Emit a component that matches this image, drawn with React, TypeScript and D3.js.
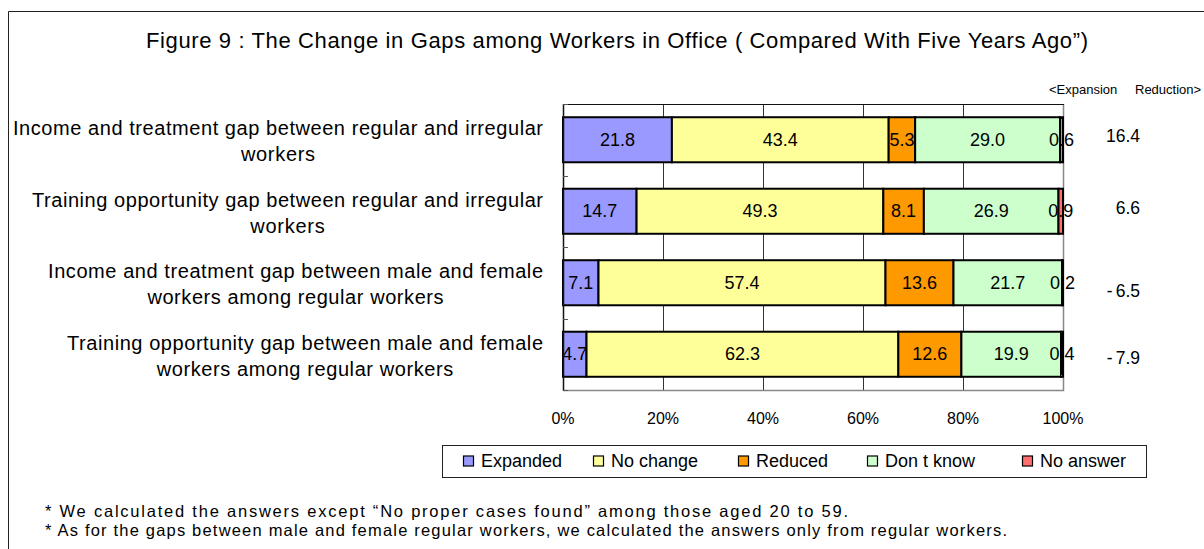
import React, { useEffect, useRef } from "react";
import * as d3 from "d3";

// ---------- data ----------
const CATEGORY_LINE1 = [
  "Income and treatment gap between regular and irregular",
  "Training opportunity gap between regular and irregular",
  "Income and treatment gap between male and female",
  "Training opportunity gap between male and female",
];
const CATEGORY_LINE2 = [
  "workers",
  "workers",
  "workers among regular workers",
  "workers among regular workers",
];
const SERIES = ["Expanded", "No change", "Reduced", "Don t know", "No answer"];
const EXPANDED = [21.8, 14.7, 7.1, 4.7];
const NO_CHANGE = [43.4, 49.3, 57.4, 62.3];
const REDUCED = [5.3, 8.1, 13.6, 12.6];
const DONT_KNOW = [29.0, 26.9, 21.7, 19.9];
const NO_ANSWER = [0.6, 0.9, 0.2, 0.4];
const DIFF_LABELS = ["16.4", "6.6", "-6.5", "-7.9"];
const X_TICKS = [0, 20, 40, 60, 80, 100];

const TITLE =
  "Figure 9 : The Change in Gaps among Workers in Office ( Compared With Five Years Ago\u201d)";
const NOTE1 =
  "* We calculated the answers except \u201cNo proper cases found\u201d among those aged 20 to 59.";
const NOTE2 =
  "* As for the gaps between male and female regular workers, we calculated the answers only from regular workers.";

// ---------- styles / layout ----------
const COLORS = ["#9999FF", "#FFFF99", "#FF9900", "#CCFFCC", "#FF6F6F"];
const FONT = "'Liberation Sans', Arial, sans-serif";
const W = 1204;
const H = 549;
const PLOT = { left: 563, right: 1063, top: 104, bottom: 390 };
const LEGEND_BOX = { x: 442, y: 445, w: 704, h: 32 };
const LEGEND_X = [463, 593, 738, 867, 1022];
const DIFF_DY = [-4, -3.5, 8, 3.5];
const LABEL_RIGHT = 543;
const LABEL_LINE1_WIDTH = [530, 511, 495, 476];
const NOTE_WIDTH = [803, 962];

export default function App() {
  const ref = useRef<SVGSVGElement>(null);

  useEffect(() => {
    const svg = d3.select(ref.current);
    svg.selectAll("*").remove();

    const rows = CATEGORY_LINE1.map((_, i) => ({
      i,
      Expanded: EXPANDED[i],
      "No change": NO_CHANGE[i],
      Reduced: REDUCED[i],
      "Don t know": DONT_KNOW[i],
      "No answer": NO_ANSWER[i],
    }));

    const x = d3.scaleLinear().domain([0, 1]).range([PLOT.left, PLOT.right]);
    const y = d3
      .scaleBand<number>()
      .domain(d3.range(CATEGORY_LINE1.length))
      .range([PLOT.top, PLOT.bottom])
      .paddingInner(0.37)
      .paddingOuter(0.185);

    const stack = d3.stack<any>().keys(SERIES).offset(d3.stackOffsetExpand);
    const layers = stack(rows);

    // outer frame
    svg
      .append("path")
      .attr("d", `M8.5,${H} L8.5,11.5 L${W},11.5`)
      .attr("fill", "none")
      .attr("stroke", "#222")
      .attr("stroke-width", 1);

    // title
    svg
      .append("text")
      .attr("x", 617)
      .attr("y", 40)
      .attr("text-anchor", "middle")
      .attr("dominant-baseline", "central")
      .attr("font-size", 22)
      .attr("textLength", 942)
      .attr("lengthAdjust", "spacing")
      .text(TITLE);

    // expansion/reduction header
    const hdr = svg
      .append("text")
      .attr("y", 89)
      .attr("dominant-baseline", "central")
      .attr("font-size", 13);
    hdr.append("tspan").attr("x", 1049).text("<Expansion");
    hdr.append("tspan").attr("x", 1135).text("Reduction>");

    // gridlines
    svg
      .append("g")
      .selectAll("line")
      .data(X_TICKS.slice(1, -1))
      .join("line")
      .attr("x1", (d) => Math.round(x(d / 100)) + 0.5)
      .attr("x2", (d) => Math.round(x(d / 100)) + 0.5)
      .attr("y1", PLOT.top)
      .attr("y2", PLOT.bottom)
      .attr("stroke", "#333")
      .attr("stroke-width", 1);

    // plot border: right & bottom gray, top black
    svg
      .append("path")
      .attr(
        "d",
        `M${PLOT.right + 0.5},${PLOT.top} L${PLOT.right + 0.5},${PLOT.bottom + 0.5} L${PLOT.left},${PLOT.bottom + 0.5}`
      )
      .attr("fill", "none")
      .attr("stroke", "#888")
      .attr("stroke-width", 1.5);
    svg
      .append("line")
      .attr("x1", PLOT.left)
      .attr("x2", PLOT.right + 1)
      .attr("y1", PLOT.top + 0.5)
      .attr("y2", PLOT.top + 0.5)
      .attr("stroke", "#111")
      .attr("stroke-width", 1);

    // bars
    const gBars = svg.append("g");
    layers.forEach((layer, si) => {
      gBars
        .append("g")
        .selectAll("rect")
        .data(layer)
        .join("rect")
        .attr("x", (d) => x(d[0]))
        .attr("width", (d) => Math.max(0, x(d[1]) - x(d[0])))
        .attr("y", (d: any) => y(d.data.i)!)
        .attr("height", y.bandwidth())
        .attr("fill", COLORS[si])
        .attr("stroke", "#000")
        .attr("stroke-width", 2);
    });

    // value labels
    const gLab = svg.append("g");
    layers.forEach((layer) => {
      gLab
        .append("g")
        .selectAll("text")
        .data(layer)
        .join("text")
        .attr("x", (d) => x((d[0] + d[1]) / 2))
        .attr("y", (d: any) => y(d.data.i)! + y.bandwidth() / 2)
        .attr("text-anchor", "middle")
        .attr("dominant-baseline", "central")
        .attr("font-size", 18)
        .text((d: any) => (d.data[layer.key] as number).toFixed(1));
    });

    // left axis line + ticks (inside)
    svg
      .append("line")
      .attr("x1", PLOT.left + 0.5)
      .attr("x2", PLOT.left + 0.5)
      .attr("y1", PLOT.top)
      .attr("y2", PLOT.bottom + 1)
      .attr("stroke", "#111")
      .attr("stroke-width", 1.5);
    const n = CATEGORY_LINE1.length;
    const bounds = d3
      .range(n + 1)
      .map((k) => PLOT.top + k * ((PLOT.bottom - PLOT.top) / n));
    svg
      .append("g")
      .selectAll("line")
      .data(bounds)
      .join("line")
      .attr("x1", PLOT.left)
      .attr("x2", PLOT.left + 5)
      .attr("y1", (d) => Math.round(d) + 0.5)
      .attr("y2", (d) => Math.round(d) + 0.5)
      .attr("stroke", "#555")
      .attr("stroke-width", 1);

    // category labels
    const gCat = svg.append("g").attr("font-size", 20);
    CATEGORY_LINE1.forEach((l1, i) => {
      const c = y(i)! + y.bandwidth() / 2;
      const t1 = gCat
        .append("text")
        .attr("x", LABEL_RIGHT)
        .attr("y", c - 4.5)
        .attr("text-anchor", "end")
        .text(l1);
      const natural = (t1.node() as SVGTextElement).getComputedTextLength();
      const w1 = LABEL_LINE1_WIDTH[i];
      t1.attr("textLength", w1).attr("lengthAdjust", "spacing");
      const ratio = w1 / natural;
      const t2 = gCat
        .append("text")
        .attr("x", LABEL_RIGHT - w1 / 2)
        .attr("y", c + 21.5)
        .attr("text-anchor", "middle")
        .text(CATEGORY_LINE2[i]);
      const n2 = (t2.node() as SVGTextElement).getComputedTextLength();
      t2.attr("textLength", n2 * ratio).attr("lengthAdjust", "spacing");
    });

    // x-axis tick labels
    svg
      .append("g")
      .selectAll("text")
      .data(X_TICKS)
      .join("text")
      .attr("x", (d) => x(d / 100))
      .attr("y", 418)
      .attr("text-anchor", "middle")
      .attr("dominant-baseline", "central")
      .attr("font-size", 16)
      .text((d) => `${d}%`);

    // difference column
    svg
      .append("g")
      .selectAll("text")
      .data(DIFF_LABELS)
      .join("text")
      .attr("x", 1140)
      .attr("y", (d, i) => y(i)! + y.bandwidth() / 2 + DIFF_DY[i])
      .attr("text-anchor", "end")
      .attr("dominant-baseline", "central")
      .attr("font-size", 17.5)
      .each(function (d) {
        const t = d3.select(this);
        if (d.startsWith("-")) {
          t.append("tspan").text("-");
          t.append("tspan").attr("dx", 3).text(d.slice(1));
        } else {
          t.text(d);
        }
      });

    // legend
    const lg = svg.append("g");
    lg.append("rect")
      .attr("x", LEGEND_BOX.x + 0.5)
      .attr("y", LEGEND_BOX.y + 0.5)
      .attr("width", LEGEND_BOX.w)
      .attr("height", LEGEND_BOX.h)
      .attr("fill", "#fff")
      .attr("stroke", "#222")
      .attr("stroke-width", 1);
    const ly = LEGEND_BOX.y + LEGEND_BOX.h / 2;
    const items = lg.selectAll("g.item").data(SERIES).join("g").attr("class", "item");
    items
      .append("rect")
      .attr("x", (d, i) => LEGEND_X[i] + 0.5)
      .attr("y", ly - 5)
      .attr("width", 10)
      .attr("height", 10)
      .attr("fill", (d, i) => COLORS[i])
      .attr("stroke", "#000")
      .attr("stroke-width", 1.2);
    items
      .append("text")
      .attr("x", (d, i) => LEGEND_X[i] + 18)
      .attr("y", ly)
      .attr("dominant-baseline", "central")
      .attr("font-size", 18)
      .text((d) => d);

    // footnotes
    const notes = svg.append("g").attr("font-size", 16.5);
    [NOTE1, NOTE2].forEach((txt, k) => {
      notes
        .append("text")
        .attr("x", 45)
        .attr("y", 510.5 + k * 19)
        .attr("dominant-baseline", "central")
        .attr("textLength", NOTE_WIDTH[k])
        .attr("lengthAdjust", "spacing")
        .text(txt);
    });
  }, []);

  return (
    <svg
      ref={ref}
      width={W}
      height={H}
      viewBox={`0 0 ${W} ${H}`}
      style={{
        position: "absolute",
        left: 0,
        top: 0,
        background: "#fff",
        fontFamily: FONT,
      }}
    />
  );
}
